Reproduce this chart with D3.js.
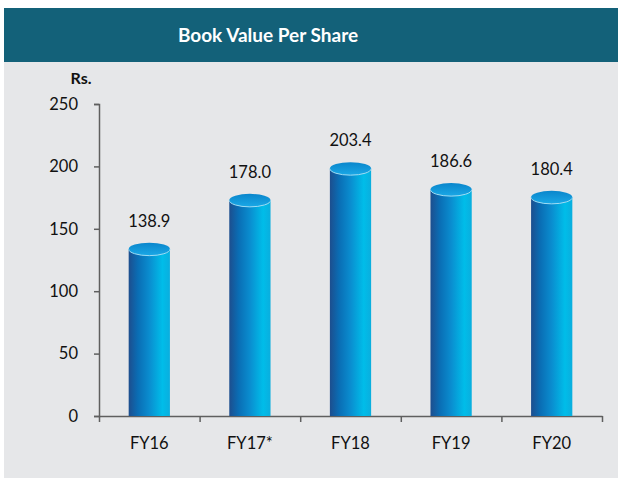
<!DOCTYPE html>
<html>
<head>
<meta charset="utf-8">
<script src="https://cdn.jsdelivr.net/npm/d3@7"></script>
<style>
  body { margin: 0; background: #fff; }
  text { font-family: Lato, "Open Sans", sans-serif; fill: #111; }
</style>
</head>
<body>
<div id="chart"></div>
<script>
// data
const years = ["FY16", "FY17*", "FY18", "FY19", "FY20"];
const bookValue = [138.9, 178.0, 203.4, 186.6, 180.4];
const yTicks = [0, 50, 100, 150, 200, 250];

const width = 618, height = 478;

const svg = d3.select("#chart")
    .append("svg")
    .attr("width", width)
    .attr("height", height);

// gradients for the cylinders
const defs = svg.append("defs");
const bodyGrad = defs.append("linearGradient").attr("id", "cylBody")
    .attr("x1", 0).attr("x2", 1).attr("y1", 0).attr("y2", 0);
[["0%", "#1d4e8e"], ["22%", "#0a6db4"], ["50%", "#0a8dcf"], ["82%", "#00bde9"], ["100%", "#0aaede"]]
    .forEach(([o, c]) => bodyGrad.append("stop").attr("offset", o).attr("stop-color", c));
const topGrad = defs.append("linearGradient").attr("id", "cylTop")
    .attr("x1", 0).attr("x2", 0).attr("y1", 0).attr("y2", 1);
[["0%", "#0a86cc"], ["100%", "#1aa8e6"]]
    .forEach(([o, c]) => topGrad.append("stop").attr("offset", o).attr("stop-color", c));

// background panel + header
svg.append("rect")
    .attr("x", 4).attr("y", 62).attr("width", width - 4).attr("height", height - 62)
    .style("fill", "#e6e7e9");
svg.append("rect")
    .attr("x", 4).attr("y", 8).attr("width", width - 4).attr("height", 54)
    .style("fill", "#136179");
svg.append("text")
    .attr("x", 268).attr("y", 42)
    .attr("text-anchor", "middle")
    .style("font-size", "19px").style("font-weight", "bold")
    .style("fill", "#fff")
    .text("Book Value Per Share");

// scales
const x = d3.scaleBand().domain(years).range([99, 602]).padding(0);
const xEdges = d3.scaleLinear().domain([0, years.length]).range([99, 602]);
const y = d3.scaleLinear().domain([0, 250]).range([416, 104]);

// axes
const yAxis = svg.append("g")
    .attr("transform", "translate(99,0)")
    .call(d3.axisLeft(y).tickValues(yTicks).tickSize(5).tickPadding(16));
yAxis.selectAll("text").style("font-size", "16.5px").style("font-family", "Lato, sans-serif").style("fill", "#111");

const xAxis = svg.append("g")
    .attr("transform", "translate(0,416)")
    .call(d3.axisBottom(xEdges).tickValues(d3.range(years.length + 1)).tickFormat("").tickSize(6).tickSizeOuter(0));

const xLabels = svg.append("g")
    .attr("transform", "translate(0,416)")
    .call(d3.axisBottom(x).tickSize(0).tickPadding(21));
xLabels.select(".domain").remove();
xLabels.selectAll("text").style("font-size", "16.5px").style("font-family", "Lato, sans-serif").style("fill", "#111");

svg.selectAll(".domain, .tick line").style("stroke", "#5f5f5f").style("stroke-width", 1.5);

svg.append("text")
    .attr("x", 81).attr("y", 84)
    .attr("text-anchor", "middle")
    .style("font-size", "16px").style("font-weight", "bold")
    .text("Rs.");

// cylinders
const barW = x.bandwidth() * 0.41;
const ry = 6.5;
const rows = years.map((d, i) => ({ year: d, value: bookValue[i] }));

const bars = svg.append("g").selectAll(".bar")
    .data(rows).enter()
    .append("g").attr("class", "bar");

bars.append("rect")
    .attr("x", (d) => x(d.year) + (x.bandwidth() - barW) / 2)
    .attr("y", (d) => y(d.value) + ry)
    .attr("width", barW)
    .attr("height", (d) => y(0) - y(d.value) - ry)
    .style("fill", "url(#cylBody)");

bars.append("ellipse")
    .attr("cx", (d) => x(d.year) + x.bandwidth() / 2)
    .attr("cy", (d) => y(d.value) + ry)
    .attr("rx", barW / 2)
    .attr("ry", ry)
    .style("fill", "url(#cylTop)");

bars.append("path")
    .attr("d", (d) => {
        const cx = x(d.year) + x.bandwidth() / 2, cy = y(d.value) + ry;
        return `M${cx - barW / 2},${cy} A${barW / 2},${ry} 0 0 0 ${cx + barW / 2},${cy}`;
    })
    .style("fill", "none")
    .style("stroke", "#9fdcf3")
    .style("stroke-width", 1);

bars.append("text")
    .attr("x", (d) => x(d.year) + x.bandwidth() / 2)
    .attr("y", (d) => y(d.value) - 16)
    .attr("text-anchor", "middle")
    .style("font-size", "16.5px")
    .text((d) => d.value.toFixed(1));
</script>
</body>
</html>
